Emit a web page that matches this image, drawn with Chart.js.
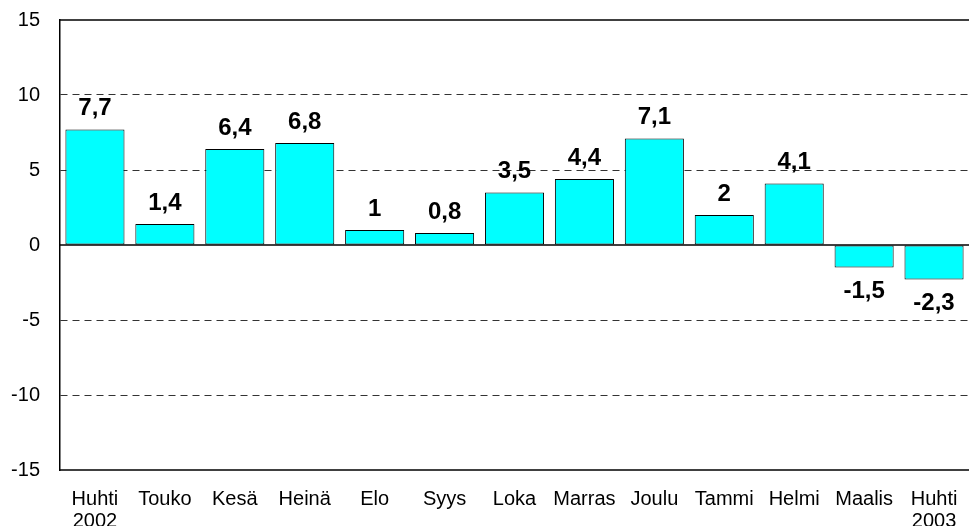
<!DOCTYPE html>
<html>
<head>
<meta charset="utf-8">
<script src="https://cdn.jsdelivr.net/npm/chart.js@4"></script>
<style>
  html, body { margin: 0; padding: 0; background: #fff; }
  #wrap { width: 969px; height: 526px; }
</style>
</head>
<body>
<div id="wrap"><canvas id="chart" width="969" height="526"></canvas></div>
<script>
// Kuukausimuutokset
const months = [['Huhti', '2002'], 'Touko', 'Kesä', 'Heinä', 'Elo', 'Syys', 'Loka', 'Marras', 'Joulu', 'Tammi', 'Helmi', 'Maalis', ['Huhti', '2003']];
const values = [7.7, 1.4, 6.4, 6.8, 1, 0.8, 3.5, 4.4, 7.1, 2, 4.1, -1.5, -2.3];
const yTicks = [-15, -10, -5, 0, 5, 10, 15];

// arvot palkkien päälle + yhtenäiset viivat (0, ylä- ja alareuna)
const labelsPlugin = {
    id: 'barLabels',
    afterDatasetsDraw(chart) {
        const ctx = chart.ctx;
        const area = chart.chartArea;
        const yScale = chart.scales.y;
        ctx.save();
        ctx.strokeStyle = '#000';
        ctx.lineWidth = 1.5;
        [yScale.getPixelForValue(0), area.top, area.bottom].forEach(function (py) {
            ctx.beginPath();
            ctx.moveTo(area.left, py);
            ctx.lineTo(area.right, py);
            ctx.stroke();
        });

        ctx.fillStyle = '#000';
        ctx.font = 'bold 24px Arial, "Liberation Sans", sans-serif';
        ctx.textAlign = 'center';
        ctx.textBaseline = 'middle';
        const meta = chart.getDatasetMeta(0);
        meta.data.forEach(function (bar, i) {
            const v = values[i];
            const text = String(v).replace('.', ',');
            const ty = v >= 0 ? bar.y - 21 : bar.y + 24;
            ctx.fillText(text, bar.x, ty);
        });
        ctx.restore();
    }
};

new Chart(document.getElementById('chart'), {
    type: 'bar',
    data: {
        labels: months,
        datasets: [{
            data: values,
            backgroundColor: '#00FFFF',
            borderColor: '#000',
            borderWidth: 1,
            borderSkipped: false,
            barPercentage: 0.845,
            categoryPercentage: 1
        }]
    },
    options: {
        responsive: false,
        animation: false,
        layout: { padding: { top: 20, right: 0, left: 0, bottom: 0 } },
        plugins: {
            legend: { display: false },
            tooltip: { enabled: false }
        },
        scales: {
            y: {
                min: yTicks[0],
                max: yTicks[yTicks.length - 1],
                afterBuildTicks: function (scale) {
                    scale.ticks = yTicks.map(v => ({ value: v }));
                },
                afterFit: function (scale) {
                    scale.width = 60;
                    scale.paddingTop = 0;
                    scale.paddingBottom = 0;
                },
                ticks: {
                    color: '#000',
                    padding: 20,
                    font: { family: 'Arial, "Liberation Sans", sans-serif', size: 20 }
                },
                grid: {
                    drawTicks: false,
                    lineWidth: 1,
                    color: function (c) {
                        const v = c.tick ? c.tick.value : null;
                        if (v === 0 || v === 15 || v === -15) return 'rgba(0,0,0,0)';
                        return '#333';
                    }
                },
                border: { display: true, color: '#000', width: 1.5, dash: [7, 5] }
            },
            x: {
                afterFit: function (scale) {
                    scale.height = 56;
                    scale.paddingLeft = 0;
                    scale.paddingRight = 0;
                },
                ticks: {
                    color: '#000',
                    padding: 18,
                    maxRotation: 0,
                    autoSkip: false,
                    font: { family: 'Arial, "Liberation Sans", sans-serif', size: 20, lineHeight: 1.1 }
                },
                grid: { display: false, drawTicks: false },
                border: { display: false }
            }
        }
    },
    plugins: [labelsPlugin]
});
</script>
</body>
</html>
